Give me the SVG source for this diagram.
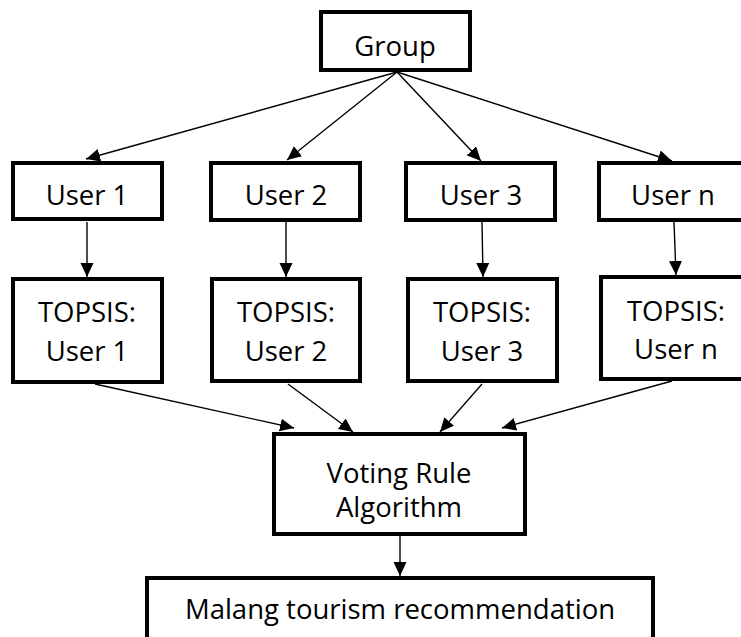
<svg xmlns="http://www.w3.org/2000/svg" width="741" height="637" viewBox="0 0 741 637">
  <style>
    .box { fill: #ffffff; stroke: #000000; stroke-width: 4; }
    .lbl { font-family: "Open Sans", "Liberation Sans", sans-serif; font-size: 27.5px; fill: #000000; text-anchor: middle; }
    .edge { fill: none; stroke: #000000; stroke-width: 1.4; marker-end: url(#head); }
  </style>
  <defs>
    <marker id="head" markerUnits="userSpaceOnUse" markerWidth="15" markerHeight="14" refX="14" refY="6.5" orient="auto">
      <path d="M0,0 L14,6.5 L0,13 Z" fill="#000000"/>
    </marker>
  </defs>

  <rect width="741" height="637" fill="#ffffff"/>

  <g id="connectors">
    <!-- group to users -->
    <line class="edge" x1="397" y1="72" x2="86" y2="159"/>
    <line class="edge" x1="397" y1="72" x2="287" y2="160"/>
    <line class="edge" x1="397" y1="72" x2="481" y2="161"/>
    <line class="edge" x1="397" y1="72" x2="672" y2="161"/>
    <!-- users to TOPSIS -->
    <line class="edge" x1="87" y1="222" x2="87" y2="277"/>
    <line class="edge" x1="286" y1="222" x2="286" y2="277"/>
    <line class="edge" x1="482" y1="222" x2="483" y2="277"/>
    <line class="edge" x1="674" y1="222" x2="676" y2="275"/>
    <!-- TOPSIS to voting -->
    <line class="edge" x1="95" y1="384" x2="294" y2="428"/>
    <line class="edge" x1="288" y1="384" x2="353" y2="432"/>
    <line class="edge" x1="482" y1="384" x2="440" y2="432"/>
    <line class="edge" x1="672" y1="381" x2="502" y2="428"/>
    <!-- voting to recommendation -->
    <line class="edge" x1="400" y1="536" x2="400" y2="576"/>
  </g>

  <g id="group">
    <rect class="box" x="321" y="12" width="149" height="58"/>
    <text class="lbl" x="395" y="56">Group</text>
  </g>

  <g id="user1">
    <rect class="box" x="13" y="163" width="149" height="56"/>
    <text class="lbl" x="87" y="205">User 1</text>
  </g>
  <g id="user2">
    <rect class="box" x="211" y="163" width="149" height="57"/>
    <text class="lbl" x="286" y="205">User 2</text>
  </g>
  <g id="user3">
    <rect class="box" x="406" y="163" width="149" height="57"/>
    <text class="lbl" x="481" y="205">User 3</text>
  </g>
  <g id="usern">
    <rect class="box" x="599" y="163" width="149" height="57"/>
    <text class="lbl" x="673" y="205">User n</text>
  </g>

  <g id="topsis1">
    <rect class="box" x="13" y="279" width="149" height="103"/>
    <text class="lbl" x="87" y="322">TOPSIS:</text>
    <text class="lbl" x="87" y="361">User 1</text>
  </g>
  <g id="topsis2">
    <rect class="box" x="212" y="279" width="148" height="102"/>
    <text class="lbl" x="286" y="322">TOPSIS:</text>
    <text class="lbl" x="286" y="361">User 2</text>
  </g>
  <g id="topsis3">
    <rect class="box" x="408" y="279" width="149" height="102"/>
    <text class="lbl" x="482" y="322">TOPSIS:</text>
    <text class="lbl" x="482" y="361">User 3</text>
  </g>
  <g id="topsisn">
    <rect class="box" x="601" y="277" width="149" height="102"/>
    <text class="lbl" x="676" y="321">TOPSIS:</text>
    <text class="lbl" x="676" y="359">User n</text>
  </g>

  <g id="voting">
    <rect class="box" x="274" y="434" width="251" height="100"/>
    <text class="lbl" x="399" y="483">Voting Rule</text>
    <text class="lbl" x="399" y="517">Algorithm</text>
  </g>

  <g id="recommendation">
    <rect class="box" x="147" y="578" width="506" height="80"/>
    <text class="lbl" x="400" y="619">Malang tourism recommendation</text>
  </g>
</svg>
